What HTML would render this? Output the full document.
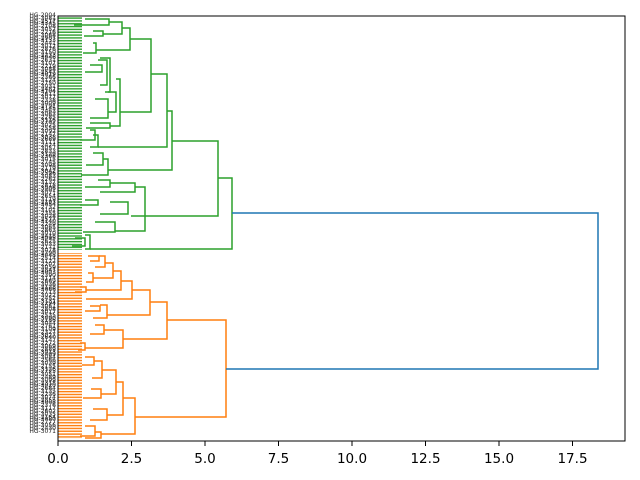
<!DOCTYPE html>
<html><head><meta charset="utf-8"><style>
body{margin:0;background:#fff;width:640px;height:480px;overflow:hidden;position:relative;font-family:"DejaVu Sans","Liberation Sans",sans-serif}
#lab{position:absolute;right:584px;top:15px;font-size:6px;line-height:2.83px;white-space:pre;text-align:right;color:#222;font-family:"DejaVu Sans",sans-serif}
</style></head><body>
<svg width="640" height="480" style="position:absolute;left:0;top:0">
<defs>
<pattern id="pg" width="10" height="2.83" patternUnits="userSpaceOnUse"><rect y="0.4" width="10" height="1.4" fill="#2ca02c"/></pattern>
<pattern id="po" width="10" height="2.83" patternUnits="userSpaceOnUse"><rect y="0.4" width="10" height="1.4" fill="#ff7f0e"/></pattern>
</defs>
<rect x="58" y="17" width="24" height="233" fill="url(#pg)"/>
<rect x="58" y="253" width="24" height="186" fill="url(#po)"/>
<g fill="none" stroke="#2ca02c" stroke-width="1.5">
<path d="M218,178H232V249H90"/>
<path d="M172,141H218V216H131"/>
<path d="M167,111H172V170H108"/>
<path d="M151,74H167V147H98"/>
<path d="M130,39H151V112H120"/>
<path d="M122,28H130V50H96"/>
<path d="M109,22H122V34H103"/>
<path d="M85,19H109V25H74"/>
<path d="M93,31H103V36H84"/>
<path d="M93,43H96V53H83"/>
<path d="M116,79H120V126H110"/>
<path d="M100,58H110V92H108"/>
<path d="M98,60H107V85H100"/>
<path d="M90,65H102V72H85"/>
<path d="M105,92H116V112H108"/>
<path d="M95,99H108V118H90"/>
<path d="M90,123H110V128H86"/>
<path d="M93,135H98V147H90"/>
<path d="M90,130H95V140H80"/>
<path d="M103,159H108V175H81"/>
<path d="M93,153H103V165H86"/>
<path d="M135,187H145V231H115"/>
<path d="M110,183H135V192H100"/>
<path d="M98,180H110V187H85"/>
<path d="M85,200H98V205H80"/>
<path d="M110,202H128V214H100"/>
<path d="M95,222H115V232H83"/>
<path d="M85,235H90V249H85"/>
<path d="M75,238H85V246H72"/>
</g>
<g fill="none" stroke="#ff7f0e" stroke-width="1.5">
<path d="M167,320H226V417H135"/>
<path d="M150,302H167V339H123"/>
<path d="M132,290H150V315H107"/>
<path d="M121,281H132V299H86"/>
<path d="M113,271H121V290H86"/>
<path d="M105,263H113V278H93"/>
<path d="M99,256H105V267H95"/>
<path d="M88,256H99V261H90"/>
<path d="M88,273H93V282H86"/>
<path d="M80,287H86V292H75"/>
<path d="M100,305H107V318H93"/>
<path d="M90,306H100V311H85"/>
<path d="M104,330H123V348H85"/>
<path d="M95,325H104V334H90"/>
<path d="M80,343H85V350H78"/>
<path d="M123,398H135V434H101"/>
<path d="M116,382H123V415H107"/>
<path d="M102,370H116V394H101"/>
<path d="M94,361H102V378H92"/>
<path d="M85,357H94V365H82"/>
<path d="M91,389H101V398H83"/>
<path d="M93,409H107V420H90"/>
<path d="M95,432H101V438H85"/>
<path d="M85,426H95V436H80"/>
</g>
<g fill="none" stroke="#1f77b4" stroke-width="1.5"><path d="M232,213H598V369H226"/></g>
<rect x="58" y="16" width="567" height="425" fill="none" stroke="#000" stroke-width="1"/>
<g stroke="#000" stroke-width="1">
<path d="M58,441v5M131.5,441v5M205,441v5M278.5,441v5M352,441v5M425.5,441v5M499,441v5M572.5,441v5"/>
</g>
<g font-size="13.5" text-anchor="middle" fill="#000" font-family="DejaVu Sans,Liberation Sans,sans-serif">
<text x="58" y="463">0.0</text><text x="131.5" y="463">2.5</text><text x="205" y="463">5.0</text><text x="278.5" y="463">7.5</text><text x="352" y="463">10.0</text><text x="425.5" y="463">12.5</text><text x="499" y="463">15.0</text><text x="572.5" y="463">17.5</text>
</g>
</svg>
<div id="lab">HG-2004
HG-3081
HG-2517
HG-3345
HG-2108
HG-3052
HG-2216
HG-3068
HG-2907
HG-3133
HG-2441
HG-3012
HG-2876
HG-3150
HG-2233
HG-3046
HG-2631
HG-3107
HG-2219
HG-3088
HG-2547
HG-3019
HG-2366
HG-3124
HG-2750
HG-3031
HG-2482
HG-3104
HG-2611
HG-3077
HG-2338
HG-3009
HG-2791
HG-3145
HG-2463
HG-3063
HG-2285
HG-3116
HG-2702
HG-3025
HG-2558
HG-3092
HG-2147
HG-3038
HG-2689
HG-3111
HG-2424
HG-3057
HG-2833
HG-3129
HG-2306
HG-3015
HG-2745
HG-3098
HG-2179
HG-3042
HG-2596
HG-3083
HG-2262
HG-3137
HG-2818
HG-3006
HG-2401
HG-3071
HG-2654
HG-3119
HG-2193
HG-3054
HG-2732
HG-3101
HG-2355
HG-3028
HG-2577
HG-3140
HG-2249
HG-3065
HG-2863
HG-3010
HG-2418
HG-3095
HG-2625
HG-3033
HG-2171
HG-3078
HG-2790
HG-3048
HG-2514
HG-3122
HG-2207
HG-3059
HG-2847
HG-3003
HG-2390
HG-3114
HG-2669
HG-3036
HG-2128
HG-3086
HG-2713
HG-3022
HG-2452
HG-3131
HG-2294
HG-3061
HG-2808
HG-3017
HG-2535
HG-3090
HG-2186
HG-3044
HG-2761
HG-3109
HG-2327
HG-3027
HG-2640
HG-3147
HG-2272
HG-3069
HG-2889
HG-3013
HG-2409
HG-3084
HG-2566
HG-3039
HG-2155
HG-3126
HG-2725
HG-3051
HG-2489
HG-3099
HG-2318
HG-3020
HG-2684
HG-3135
HG-2236
HG-3074
HG-2855
HG-3008
HG-2376
HG-3117
HG-2602
HG-3035
HG-2164
HG-3080
HG-2777
HG-3056
HG-2430
HG-3071</div>
</body></html>
